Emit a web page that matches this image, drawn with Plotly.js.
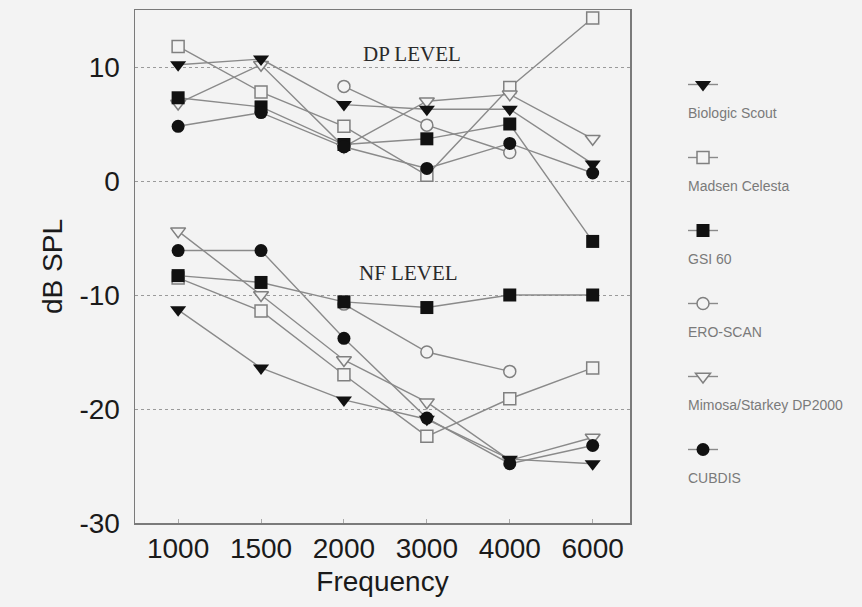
<!DOCTYPE html>
<html>
<head>
<meta charset="utf-8">
<script src="https://cdn.plot.ly/plotly-3.0.1.min.js"></script>
<style>
  html, body { margin: 0; padding: 0; background: #f3f3f3; }
  #chart { width: 862px; height: 607px; }
</style>
</head>
<body>
<div id="chart"></div>
<script>
// ---- data ----
const frequencies = ['1000', '1500', '2000', '3000', '4000', '6000'];
const deviceNames = ['Biologic Scout', 'Madsen Celesta', 'GSI 60', 'ERO-SCAN', 'Mimosa/Starkey DP2000', 'CUBDIS'];
const yTickValues = [-30, -20, -10, 0, 10];

const biologicDP = [10.2, 10.7, 6.7, 6.3, 6.3, 1.5];
const biologicNF = [-11.3, -16.4, -19.2, -20.9, -24.4, -24.8];
const madsenDP   = [11.8, 7.8, 4.8, 0.5, 8.2, 14.3];
const madsenNF   = [-8.5, -11.4, -17.0, -22.4, -19.1, -16.4];
const gsiDP      = [7.3, 6.5, 3.2, 3.7, 5.0, -5.3];
const gsiNF      = [-8.3, -8.9, -10.6, -11.1, -10.0, -10.0];
const eroDP      = [null, null, 8.3, 4.9, 2.5, null];
const eroNF      = [null, null, -10.8, -15.0, -16.7, null];
const mimosaDP   = [6.8, 10.2, 3.0, 7.0, 7.6, 3.7];
const mimosaNF   = [-4.4, -10.0, -15.7, -19.4, -24.5, -22.5];
const cubdisDP   = [4.8, 6.0, 3.0, 1.1, 3.3, 0.7];
const cubdisNF   = [-6.1, -6.1, -13.8, -20.8, -24.8, -23.2];

// ---- styles ----
const BG = '#f3f3f3';
const LINE = '#8a8a8a';
const INK = '#111111';
const styles = {
  'Biologic Scout':        { symbol: 'triangle-down', size: 14, color: INK, lc: INK, lw: 0 },
  'Madsen Celesta':        { symbol: 'square', size: 12, color: BG, lc: '#808080', lw: 1.5 },
  'GSI 60':                { symbol: 'square', size: 13, color: INK, lc: INK, lw: 0 },
  'ERO-SCAN':              { symbol: 'circle', size: 12, color: BG, lc: '#808080', lw: 1.5 },
  'Mimosa/Starkey DP2000': { symbol: 'triangle-down', size: 13, color: BG, lc: '#808080', lw: 1.5 },
  'CUBDIS':                { symbol: 'circle', size: 13, color: INK, lc: INK, lw: 0 }
};
const seriesData = {
  'Biologic Scout': [biologicDP, biologicNF],
  'Madsen Celesta': [madsenDP, madsenNF],
  'GSI 60': [gsiDP, gsiNF],
  'ERO-SCAN': [eroDP, eroNF],
  'Mimosa/Starkey DP2000': [mimosaDP, mimosaNF],
  'CUBDIS': [cubdisDP, cubdisNF]
};
// draw open markers first, filled on top
const drawOrder = ['Madsen Celesta', 'ERO-SCAN', 'Mimosa/Starkey DP2000', 'Biologic Scout', 'GSI 60', 'CUBDIS'];

const traces = [];
drawOrder.forEach(name => {
  const st = styles[name];
  const rank = deviceNames.indexOf(name) + 1;
  seriesData[name].forEach((vals, k) => {
    traces.push({
      type: 'scatter',
      mode: 'lines+markers',
      x: frequencies,
      y: vals,
      name: ' ',
      legendgroup: name,
      legendrank: rank,
      showlegend: k === 0,
      connectgaps: false,
      line: { color: LINE, width: 1.4 },
      marker: { symbol: st.symbol, size: st.size, color: st.color,
                line: { color: st.lc, width: st.lw } },
      hoverinfo: 'x+y+text', text: name
    });
  });
});

// plot area geometry (pixels)
const W = 862, H = 607;
const mL = 135, mR = 232, mT = 10, mB = 84;
const plotW = W - mL - mR, plotH = H - mT - mB;
const legendLeftPx = 683, legendTopPx = 70, labelFirstPx = 113, entryStepPx = 73;

const annotations = [
  { text: 'DP LEVEL', x: 2.82, y: 11.1, xref: 'x', yref: 'y', showarrow: false,
    font: { family: 'Liberation Serif, Times New Roman, serif', size: 21, color: '#2a2a2a' } },
  { text: 'NF LEVEL', x: 2.78, y: -8.1, xref: 'x', yref: 'y', showarrow: false,
    font: { family: 'Liberation Serif, Times New Roman, serif', size: 21, color: '#2a2a2a' } }
];
deviceNames.forEach((name, i) => {
  annotations.push({
    text: name, xref: 'paper', yref: 'paper', showarrow: false,
    x: (686 - mL) / plotW, xanchor: 'left',
    y: 1 - (labelFirstPx + i * entryStepPx - mT) / plotH, yanchor: 'middle',
    font: { family: 'Liberation Sans, Arial, sans-serif', size: 14, color: '#7a7a7a' }
  });
});

const axisFont = { family: 'Liberation Sans, Arial, sans-serif', size: 28, color: '#1a1a1a' };

const layout = {
  width: W, height: H,
  margin: { l: mL, r: mR, t: mT, b: mB, pad: 0 },
  paper_bgcolor: BG, plot_bgcolor: BG,
  showlegend: true,
  legend: {
    x: (legendLeftPx - mL) / plotW, xanchor: 'left',
    y: 1 - (legendTopPx - mT) / plotH, yanchor: 'top',
    bgcolor: 'rgba(0,0,0,0)', borderwidth: 0,
    tracegroupgap: 54, font: { size: 10, color: '#777' },
    traceorder: 'grouped'
  },
  xaxis: {
    type: 'category', categoryorder: 'array', categoryarray: frequencies,
    range: [-0.52, 5.45],
    showgrid: false, zeroline: false,
    showline: true, mirror: true, linecolor: '#7a7a7a', linewidth: 1.5,
    ticks: 'inside', ticklen: 4, tickcolor: '#aaaaaa',
    tickfont: axisFont,
    title: { text: 'Frequency', font: axisFont, standoff: 8 }
  },
  yaxis: {
    range: [-30, 15], tickvals: yTickValues, ticktext: yTickValues.map(String),
    showgrid: true, gridcolor: '#9a9a9a', griddash: 'dot', gridwidth: 1,
    zeroline: false,
    showline: true, mirror: true, linecolor: '#7a7a7a', linewidth: 1.5,
    ticks: '', ticklabelstandoff: 8,
    tickfont: axisFont,
    title: { text: 'dB SPL', font: axisFont, standoff: 8 }
  },
  annotations: annotations
};

Plotly.newPlot('chart', traces, layout, { displayModeBar: false, staticPlot: true });
</script>
</body>
</html>
